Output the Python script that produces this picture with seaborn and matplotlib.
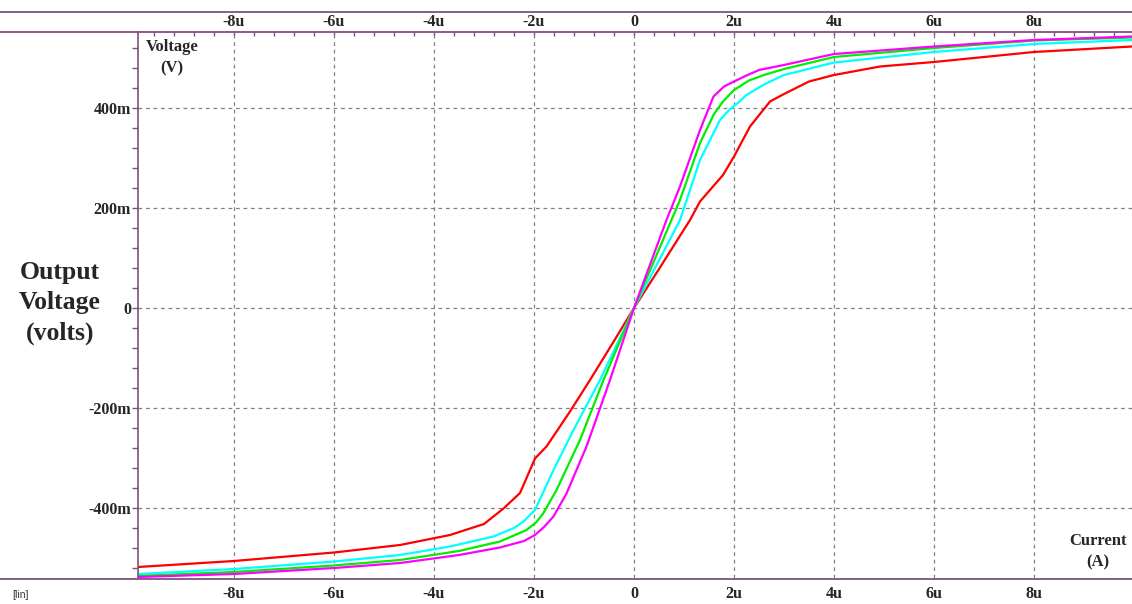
import matplotlib
matplotlib.use("Agg")
import matplotlib.pyplot as plt
from matplotlib.lines import Line2D
from matplotlib.ticker import FixedLocator, MultipleLocator
import seaborn as sns
import pandas as pd

# ---- data (current in uA, voltage in mV) ----
red_x = [-9.92, -8, -6, -4.68, -3.68, -3.0, -2.61, -2.28, -1.98, -1.75, -1.28, -0.88, -0.4, 0,
         0.5, 1.12, 1.32, 1.78, 2.0, 2.32, 2.72, 3.0, 3.5, 4.0, 4.92, 6, 8, 9.96]
red_y = [-518, -506, -489, -474, -454, -432, -401, -370, -301, -277, -207, -144, -66, 0,
         78, 176, 213, 266, 303, 363, 413, 428, 453, 466, 483, 492, 512, 523]

cyan_x = [-9.92, -8, -6, -4.68, -3.68, -2.81, -2.4, -2.21, -1.98, -1.61, -1.21, -0.68, 0,
          0.5, 0.92, 1.32, 1.72, 1.9, 2.1, 2.25, 2.6, 3.0, 4.0, 6, 8, 9.96]
cyan_y = [-532, -522, -507, -494, -477, -457, -440, -427, -404, -324, -244, -144, 0,
          95, 176, 296, 376, 396, 412, 426, 447, 466, 491, 512, 528, 536]

green_x = [-9.92, -8, -6, -4.68, -3.5, -2.68, -2.15, -1.95, -1.81, -1.55, -1.08, -0.61, 0,
           0.92, 1.32, 1.6, 1.78, 2.0, 2.3, 2.6, 3.0, 4.0, 6, 8, 9.96]
green_y = [-536, -528, -515, -504, -486, -467, -444, -428, -410, -364, -264, -144, 0,
           216, 330, 388, 413, 436, 455, 466, 478, 502, 520, 535, 541]

magenta_x = [-9.92, -8, -6, -4.68, -3.5, -2.68, -2.2, -1.98, -1.8, -1.61, -1.35, -0.95, -0.48, 0,
             0.65, 0.92, 1.32, 1.59, 1.8, 2.0, 2.25, 2.5, 3.0, 4.0, 6, 8, 9.96]
magenta_y = [-538, -532, -520, -510, -494, -479, -466, -454, -438, -417, -371, -277, -144, 0,
             176, 243, 356, 423, 443, 453, 465, 476, 486, 508, 523, 536, 543]

x_ticks = [-8, -6, -4, -2, 0, 2, 4, 6, 8]
x_tick_labels = ["-8u", "-6u", "-4u", "-2u", "0", "2u", "4u", "6u", "8u"]
y_ticks = [-400, -200, 0, 200, 400]
y_tick_labels = ["-400m", "-200m", "0", "200m", "400m"]

series = {"red": (red_x, red_y), "cyan": (cyan_x, cyan_y),
          "green": (green_x, green_y), "magenta": (magenta_x, magenta_y)}
colors = {"red": "#ff0000", "cyan": "#00ffff", "green": "#00ee00", "magenta": "#ff00ff"}

rows = []
for name, (xs, ys) in series.items():
    for x, y in zip(xs, ys):
        rows.append({"curve": name, "I": x, "V": y})
df = pd.DataFrame(rows)

sns.set_style("white")
plt.rcParams['font.family'] = ['Liberation Serif', 'DejaVu Serif']

W, H = 1132, 604
fig = plt.figure(figsize=(W / 100, H / 100), dpi=100)
ax_left, ax_right, ax_top, ax_bot = 138, 1132, 32, 578
ax = fig.add_axes([ax_left / W, 1 - ax_bot / H, (ax_right - ax_left) / W, (ax_bot - ax_top) / H])

sns.lineplot(data=df, x="I", y="V", hue="curve", palette=colors, ax=ax,
             linewidth=1.6, legend=False, estimator=None, sort=True)

xmin, xmax = -9.92, 9.96
ax.set_xlim(xmin, xmax)
ax.set_ylim(-540, 552)
ax.set_xlabel("")
ax.set_ylabel("")

purple = "#7f4f7f"
for s in ["right", "top", "bottom"]:
    ax.spines[s].set_visible(False)
ax.spines["left"].set_color(purple)
ax.spines["left"].set_linewidth(1.2)

minor_x = [round(-9.6 + 0.4 * i, 2) for i in range(49)]
minor_x = [m for m in minor_x if xmin < m < xmax]

ax.set_xticks(x_ticks, x_tick_labels)
ax.xaxis.set_minor_locator(FixedLocator(minor_x))
ax.set_yticks(y_ticks, y_tick_labels)
ax.yaxis.set_minor_locator(MultipleLocator(40))

ax.tick_params(axis="x", which="both", direction="out", length=3, color=purple, width=1,
               labelsize=11.5, pad=3)
ax.tick_params(axis="y", which="both", left=True, direction="out", length=4, color=purple,
               width=1, labelsize=11.5, pad=1)

sec = ax.secondary_xaxis("top")
sec.spines["top"].set_visible(False)
sec.set_xticks(x_ticks, x_tick_labels)
sec.xaxis.set_minor_locator(FixedLocator(minor_x))
sec.tick_params(axis="x", which="both", direction="in", length=3, color=purple, width=1,
                labelsize=11.5, pad=1.5)

for lab in ax.get_xticklabels() + ax.get_yticklabels() + sec.get_xticklabels():
    lab.set_fontweight("bold")

ax.grid(True, which="major", color="#808080", linestyle=(0, (3, 3)), linewidth=0.9)

# full-width purple frame lines
for ypx in [12, 32, 579]:
    fig.add_artist(Line2D([0, 1], [1 - ypx / H, 1 - ypx / H], transform=fig.transFigure,
                          color=purple, linewidth=1.3))

fig.text(172 / W, 1 - 58 / H, "Voltage\n(V)", ha="center", va="center", fontsize=12,
         fontweight="bold", linespacing=1.45)
fig.text(60 / W, 1 - 303 / H, "Output\nVoltage\n(volts)", ha="center", va="center",
         fontsize=18.5, fontweight="bold", linespacing=1.38)
fig.text(1098 / W, 1 - 552 / H, "Current\n(A)", ha="center", va="center", fontsize=12,
         fontweight="bold", linespacing=1.45)
fig.text(12 / W, 1 - 595 / H, "[lin]", ha="left", va="center", fontsize=7.5,
         family=["Liberation Sans", "DejaVu Sans"], color="#333333")

fig.savefig("out.png", dpi=100)
